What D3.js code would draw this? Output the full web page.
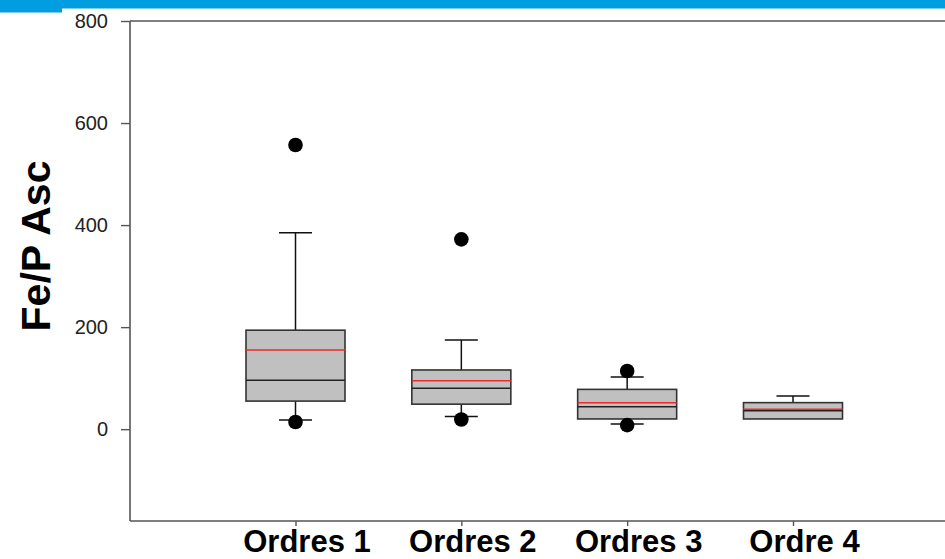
<!DOCTYPE html>
<html>
<head>
<meta charset="utf-8">
<script src="https://cdn.jsdelivr.net/npm/d3@7"></script>
<style>
  html, body { margin: 0; padding: 0; background: #fff; }
  svg { display: block; }
</style>
</head>
<body>
<svg id="chart" width="945" height="559"></svg>
<script>
// ---- data ----
const categories = ["Ordres 1", "Ordres 2", "Ordres 3", "Ordre 4"];
const q1       = [55, 49, 20, 20];
const median   = [96, 80, 44, 36];
const q3       = [194, 116, 78, 52];
const mean     = [155, 95, 52, 39];
const whiskLo  = [18, 25, 10, 20];
const whiskHi  = [385, 175, 102, 65];
const outliers = [[557, 14], [372, 19], [114, 8], []];
const yTicks   = [0, 200, 400, 600, 800];
const yLabel   = "Fe/P Asc";

(function () {
// ---- layout ----
const svg = d3.select("#chart");
const W = 945, H = 559;
const mLeft = 130, mTop = 21, mBottom = 521, mRight = 960;

// blue header bar
svg.append("rect").attr("x", 0).attr("y", 0).attr("width", W).attr("height", 8.5).attr("fill", "#009ee0");
svg.append("rect").attr("x", 0).attr("y", 0).attr("width", 62).attr("height", 12.5).attr("fill", "#009ee0");

const y = d3.scaleLinear().domain([-180, 800]).range([mBottom, mTop]);
const x = d3.scalePoint().domain(categories).range([295.5, 793]);

const data = categories.map((c, i) => ({
  c, q1: q1[i], med: median[i], q3: q3[i], mean: mean[i],
  lo: whiskLo[i], hi: whiskHi[i], out: outliers[i]
}));

const axisColor = "#555";

// frame top line
svg.append("line").attr("x1", mLeft).attr("x2", mRight).attr("y1", y(800)).attr("y2", y(800))
  .attr("stroke", axisColor).attr("stroke-width", 1.6);

// y axis
const yAxis = svg.append("g").attr("transform", `translate(${mLeft},0)`)
  .call(d3.axisLeft(y).tickValues(yTicks).tickSize(9).tickPadding(13).tickFormat(d3.format("d")));
yAxis.select(".domain").attr("stroke", axisColor).attr("stroke-width", 1.6).attr("d", `M0,${mTop}V${mBottom}`);
yAxis.selectAll(".tick line").attr("stroke", axisColor).attr("stroke-width", 1.4);
yAxis.selectAll(".tick text").attr("fill", "#222").style("font-family", "'Liberation Sans', Arial, sans-serif")
  .style("font-size", "20px");

// x axis
const xAxis = svg.append("g").attr("transform", `translate(0,${mBottom})`)
  .call(d3.axisBottom(x).tickSize(5).tickPadding(4));
xAxis.select(".domain").attr("stroke", axisColor).attr("stroke-width", 1.6).attr("d", `M${mLeft},0H${mRight}`);
xAxis.selectAll(".tick line").attr("stroke", axisColor).attr("stroke-width", 1.4);
xAxis.selectAll(".tick text").attr("fill", "#000")
  .style("font-family", "'Liberation Sans', Arial, sans-serif")
  .style("font-size", "31px").style("font-weight", "bold")
  .attr("dx", 11).attr("dy", "0.71em");

// y label
svg.append("text")
  .attr("transform", `translate(50,246) rotate(-90)`)
  .attr("text-anchor", "middle")
  .style("font-family", "'Liberation Sans', Arial, sans-serif")
  .style("font-size", "41px").style("font-weight", "bold")
  .attr("fill", "#000")
  .text(yLabel);

// boxes
const boxW = 99, capW = 33;
const g = svg.append("g");
const box = g.selectAll("g.box").data(data).join("g").attr("class", "box")
  .attr("transform", d => `translate(${x(d.c)},0)`);

// whiskers
box.append("line").attr("x1", 0).attr("x2", 0).attr("y1", d => y(d.q3)).attr("y2", d => y(d.hi))
  .attr("stroke", "#111").attr("stroke-width", 1.5);
box.append("line").attr("x1", 0).attr("x2", 0).attr("y1", d => y(d.q1)).attr("y2", d => y(d.lo))
  .attr("stroke", "#111").attr("stroke-width", 1.5);
box.append("line").attr("x1", -capW / 2).attr("x2", capW / 2).attr("y1", d => y(d.hi)).attr("y2", d => y(d.hi))
  .attr("stroke", "#111").attr("stroke-width", 1.5);
box.filter(d => d.lo < d.q1).append("line").attr("x1", -capW / 2).attr("x2", capW / 2)
  .attr("y1", d => y(d.lo)).attr("y2", d => y(d.lo))
  .attr("stroke", "#111").attr("stroke-width", 1.5);

// box
box.append("rect").attr("x", -boxW / 2).attr("width", boxW)
  .attr("y", d => y(d.q3)).attr("height", d => y(d.q1) - y(d.q3))
  .attr("fill", "#c0c0c0").attr("stroke", "#333").attr("stroke-width", 1.6);

// median
box.append("line").attr("x1", -boxW / 2).attr("x2", boxW / 2).attr("y1", d => y(d.med)).attr("y2", d => y(d.med))
  .attr("stroke", "#222").attr("stroke-width", 1.5);
// mean
box.append("line").attr("x1", -boxW / 2).attr("x2", boxW / 2).attr("y1", d => y(d.mean)).attr("y2", d => y(d.mean))
  .attr("stroke", "#ee2a2a").attr("stroke-width", 1.5);

// outliers
box.selectAll("circle").data(d => d.out).join("circle")
  .attr("cx", 0).attr("cy", v => y(v)).attr("r", 7.3).attr("fill", "#000");
})();
</script>
</body>
</html>
